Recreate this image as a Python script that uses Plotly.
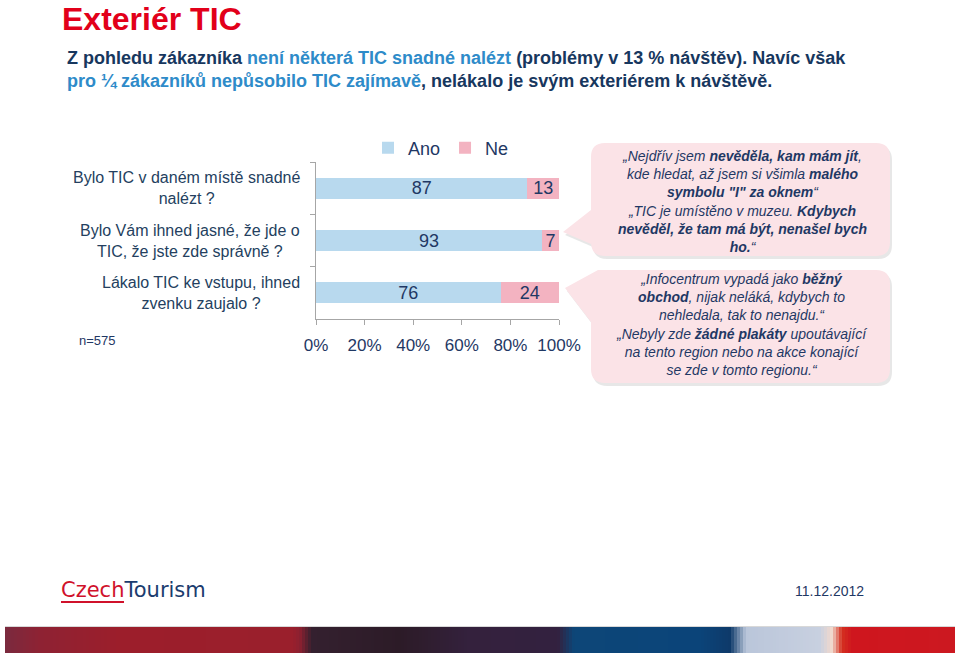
import plotly.graph_objects as go

W, H = 959, 655


def fx(p):
    return p / W


def fy(p):
    return 1 - p / H


# ---------------- data ----------------
categories = [
    "Bylo TIC v daném místě snadné<br>nalézt ?",
    "Bylo Vám ihned jasné, že jde o<br>TIC, že jste zde správně ?",
    "Lákalo TIC ke vstupu, ihned<br>zvenku zaujalo ?",
]
series_names = ["Ano", "Ne"]
ano_values = [87, 93, 76]
ne_values = [13, 7, 24]
x_tick_values = [0, 20, 40, 60, 80, 100]
x_tick_labels = ["0%", "20%", "40%", "60%", "80%", "100%"]

NAVY = "#1F3864"
LABEL = "#243F60"
BLUE_BAR = "#B8D9EE"
PINK_BAR = "#F3B3C1"
GRID = "#A6A6A6"
FONT = "Liberation Sans, Arial, sans-serif"

fig = go.Figure()
for name, vals, col in [(series_names[0], ano_values, BLUE_BAR),
                        (series_names[1], ne_values, PINK_BAR)]:
    fig.add_trace(go.Bar(
        y=categories, x=vals, orientation="h", name=name,
        marker=dict(color=col, line=dict(width=0)),
        text=[str(v) for v in vals], textposition="inside",
        insidetextanchor="middle", constraintext="none",
        textfont=dict(size=18, color=NAVY, family=FONT),
        hoverinfo="skip",
    ))

annotations = []
# category labels (centered block, right edge at x=302px)
for c in categories:
    annotations.append(dict(
        text=c, x=fx(302), xref="paper", y=c, yref="y",
        xanchor="right", yanchor="middle", align="center", showarrow=False,
        font=dict(size=16, color=LABEL, family=FONT),
    ))

# title
annotations.append(dict(
    text="<b>Exteriér TIC</b>", x=fx(61), y=1, xref="paper", yref="paper",
    xanchor="left", yanchor="top", showarrow=False, borderpad=0,
    font=dict(size=32, color="#E2001A", family=FONT),
))

DARK = "#17375E"
LIGHT = "#2E8BC9"
subtitle = (
    f"<span style='color:{DARK}'>Z pohledu zákazníka</span>"
    f"<span style='color:{LIGHT}'> není některá TIC snadné nalézt</span>"
    f"<span style='color:{DARK}'> (problémy v 13 % návštěv). Navíc však</span><br>"
    f"<span style='color:{LIGHT}'>pro ¼ zákazníků nepůsobilo TIC zajímavě</span>"
    f"<span style='color:{DARK}'>, nelákalo je svým exteriérem k návštěvě.</span>"
)
annotations.append(dict(
    text="<b>" + subtitle.replace("<br>", "</b><br><b>") + "</b>",
    x=fx(65), y=fy(70), xref="paper", yref="paper",
    xanchor="left", yanchor="middle", align="left", showarrow=False,
    font=dict(size=18, color=DARK, family=FONT),
))

# callout texts
quote1_lines = [
    "„Nejdřív jsem <b>nevěděla, kam mám jít</b>,",
    "kde hledat, až jsem si všimla <b>malého</b>",
    "<b>symbolu \"I\" za oknem</b>“",
    "„TIC je umístěno v muzeu. <b>Kdybych</b>",
    "<b>nevěděl, že tam má být, nenašel bych</b>",
    "<b>ho.</b>“",
]
quote2_lines = [
    "„Infocentrum vypadá jako <b>běžný</b>",
    "<b>obchod</b>, nijak neláká, kdybych to",
    "nehledala, tak to nenajdu.“",
    "„Nebyly zde <b>žádné plakáty</b> upoutávající",
    "na tento region nebo na akce konající",
    "se zde v tomto regionu.“",
]
for lines, cy in [(quote1_lines, 201.5), (quote2_lines, 324.5)]:
    annotations.append(dict(
        text="<br>".join("<i>" + l + "</i>" for l in lines),
        x=fx(742), y=fy(cy), xref="paper", yref="paper",
        xanchor="center", yanchor="middle", align="center", showarrow=False,
        font=dict(size=14, color=NAVY, family=FONT),
    ))

annotations.append(dict(
    text="n=575", x=fx(77), y=fy(340), xref="paper", yref="paper",
    xanchor="left", yanchor="middle", showarrow=False,
    font=dict(size=13, color=NAVY, family=FONT),
))
annotations.append(dict(
    text="<span style='color:#D0112B'>Czech</span><span style='color:#1B3C6E'>Tourism</span>",
    x=fx(59), y=fy(590), xref="paper", yref="paper",
    xanchor="left", yanchor="middle", showarrow=False,
    font=dict(size=21, family="DejaVu Sans, sans-serif"),
))
annotations.append(dict(
    text="11.12.2012", x=fx(829), y=fy(591), xref="paper", yref="paper",
    xanchor="center", yanchor="middle", showarrow=False,
    font=dict(size=14, color=NAVY, family=FONT),
))


# ---------------- shapes ----------------
def P(x, y):
    return f"{fx(x):.5f},{fy(y):.5f}"


shapes = []
box1 = ("M " + P(605, 143) + " L " + P(876, 143) + " Q " + P(890, 143) + " " + P(890, 157) +
        " L " + P(890, 242) + " Q " + P(890, 256) + " " + P(876, 256) +
        " L " + P(605, 256) + " Q " + P(591, 256) + " " + P(591, 242) +
        " L " + P(591, 244) + " L " + P(563, 232) + " L " + P(591, 210) +
        " L " + P(591, 157) + " Q " + P(591, 143) + " " + P(605, 143) + " Z")
box2 = ("M " + P(598, 270) + " L " + P(876, 270) + " Q " + P(890, 270) + " " + P(890, 284) +
        " L " + P(890, 369) + " Q " + P(890, 383) + " " + P(876, 383) +
        " L " + P(605, 383) + " Q " + P(591, 383) + " " + P(591, 369) +
        " L " + P(591, 322) + " L " + P(565, 288) + " L " + P(598, 270) + " Z")


def box_path(pts_path, dx, dy):
    out = []
    for tok in pts_path.split(" "):
        if "," in tok:
            a, b = tok.split(",")
            out.append(f"{float(a) + dx / W:.5f},{float(b) - dy / H:.5f}")
        else:
            out.append(tok)
    return " ".join(out)


for bp in (box1, box2):
    shapes.append(dict(type="path", xref="paper", yref="paper",
                       path=box_path(bp, 2, 3), fillcolor="rgba(120,120,120,0.18)",
                       line=dict(width=0), layer="below"))
    shapes.append(dict(type="path", xref="paper", yref="paper",
                       path=bp, fillcolor="#FBE3E7",
                       line=dict(width=0), layer="below"))

# logo underline
shapes.append(dict(type="line", xref="paper", yref="paper",
                   x0=fx(61), x1=fx(124), y0=fy(602), y1=fy(602),
                   line=dict(color="#D0112B", width=2)))

# bottom decorative gradient bar
stops = [(5, (122, 42, 62)), (40, (142, 34, 51)), (120, (156, 30, 43)), (292, (154, 31, 44)),
         (300, (140, 32, 48)), (312, (52, 32, 47)), (400, (44, 27, 39)), (470, (52, 33, 61)),
         (558, (51, 33, 63)), (574, (13, 70, 120)), (700, (11, 68, 121)), (730, (14, 58, 106)),
         (746, (186, 198, 218)), (820, (200, 208, 224)), (832, (242, 217, 204)),
         (842, (212, 48, 31)), (852, (207, 22, 30)), (955, (204, 24, 32))]


def col_at(x):
    for (xa, ca), (xb, cb) in zip(stops[:-1], stops[1:]):
        if xa <= x <= xb:
            t = (x - xa) / (xb - xa)
            return tuple(int(round(ca[i] + (cb[i] - ca[i]) * t)) for i in range(3))
    return stops[-1][1]


step = 3
x = 5
while x < 955:
    c = col_at(x + step / 2)
    shapes.append(dict(type="rect", xref="paper", yref="paper",
                       x0=fx(x), x1=fx(min(x + step + 0.6, 955)), y0=fy(653), y1=fy(627),
                       fillcolor=f"rgb({c[0]},{c[1]},{c[2]})", line=dict(width=0),
                       layer="below"))
    x += step
shapes.append(dict(type="line", xref="paper", yref="paper",
                   x0=fx(5), x1=fx(955), y0=fy(626.5), y1=fy(626.5),
                   line=dict(color="#D8D8D8", width=1)))

fig.update_layout(
    width=W, height=H, autosize=False,
    margin=dict(l=0, r=0, t=0, b=0, pad=0, autoexpand=False),
    paper_bgcolor="white", plot_bgcolor="white",
    barmode="stack", bargap=0.6,
    font=dict(family=FONT, color=NAVY),
    showlegend=True,
    legend=dict(orientation="h", x=fx(368), y=fy(148), xanchor="left", yanchor="middle",
                font=dict(size=18, color=NAVY, family=FONT), bgcolor="rgba(0,0,0,0)",
                itemwidth=30, traceorder="normal"),
    xaxis=dict(domain=[fx(316), fx(559)], range=[0, 100], tickvals=x_tick_values,
               ticktext=x_tick_labels, ticks="outside", ticklen=5, tickcolor=GRID,
               showline=True, linecolor=GRID, showgrid=False, zeroline=False,
               tickfont=dict(size=17, color=NAVY, family=FONT), ticklabelstandoff=6,
               fixedrange=True, automargin=False),
    yaxis=dict(domain=[fy(319), fy(162)], autorange="reversed", showticklabels=False,
               ticks="outside", tickson="boundaries", ticklen=5, tickcolor=GRID,
               showline=True, linecolor=GRID, showgrid=False, zeroline=False,
               fixedrange=True, automargin=False),
    annotations=annotations,
    shapes=shapes,
)

fig.write_html("out.html")
